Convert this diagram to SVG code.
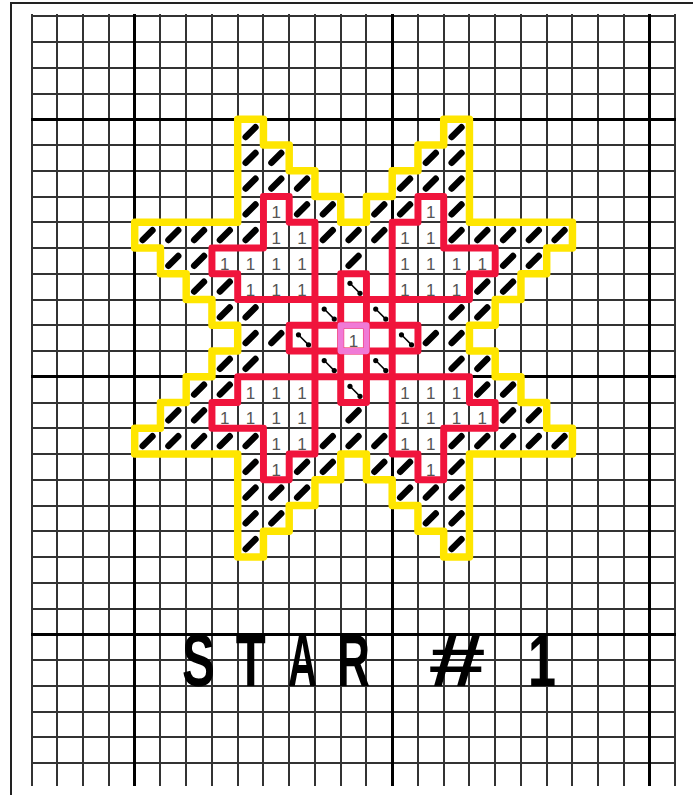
<svg xmlns="http://www.w3.org/2000/svg" xmlns:xlink="http://www.w3.org/1999/xlink" width="693" height="795" viewBox="0 0 693 795">
<style>
.g1{fill:none;stroke:#333;stroke-width:2}
.g2{fill:none;stroke:#000;stroke-width:3}
.yl{fill:none;stroke:#ffe600;stroke-width:.29;stroke-linejoin:round}
.rd{fill:none;stroke:#f0143c;stroke-width:.27;stroke-linejoin:round;stroke-linecap:round}
.pk{fill:none;stroke:#f07ad6;stroke-width:.24;stroke-linejoin:round}
.sl{fill:none;stroke:#000;stroke-width:.25;stroke-linecap:round}
.bs{fill:none;stroke:#000;stroke-width:.06}
.dot{fill:#000}
.one{font-family:"Liberation Sans",Arial,sans-serif;font-size:17px;fill:#555;text-anchor:middle}
.ttl{font-family:"Liberation Sans",Arial,sans-serif;font-weight:bold;font-size:75px;fill:#000}
</style>
<rect width="693" height="795" fill="#fff"/>
<path id="frame" d="M11 795V3H693" fill="none" stroke="#222" stroke-width="2"/>
<g id="grid">
<line class="g1" x1="32" y1="14" x2="32" y2="786"/><line class="g1" x1="57" y1="14" x2="57" y2="786"/><line class="g1" x1="83" y1="14" x2="83" y2="786"/><line class="g1" x1="109" y1="14" x2="109" y2="786"/>
<line class="g1" x1="160" y1="14" x2="160" y2="786"/><line class="g1" x1="186" y1="14" x2="186" y2="786"/><line class="g1" x1="212" y1="14" x2="212" y2="786"/><line class="g1" x1="238" y1="14" x2="238" y2="786"/>
<line class="g1" x1="263" y1="14" x2="263" y2="786"/><line class="g1" x1="289" y1="14" x2="289" y2="786"/><line class="g1" x1="315" y1="14" x2="315" y2="786"/><line class="g1" x1="341" y1="14" x2="341" y2="786"/>
<line class="g1" x1="366" y1="14" x2="366" y2="786"/><line class="g1" x1="418" y1="14" x2="418" y2="786"/><line class="g1" x1="444" y1="14" x2="444" y2="786"/><line class="g1" x1="469" y1="14" x2="469" y2="786"/>
<line class="g1" x1="495" y1="14" x2="495" y2="786"/><line class="g1" x1="521" y1="14" x2="521" y2="786"/><line class="g1" x1="547" y1="14" x2="547" y2="786"/><line class="g1" x1="572" y1="14" x2="572" y2="786"/>
<line class="g1" x1="598" y1="14" x2="598" y2="786"/><line class="g1" x1="624" y1="14" x2="624" y2="786"/><line class="g1" x1="675" y1="14" x2="675" y2="786"/>
<line class="g1" x1="31" y1="16" x2="676" y2="16"/><line class="g1" x1="31" y1="42" x2="676" y2="42"/><line class="g1" x1="31" y1="68" x2="676" y2="68"/><line class="g1" x1="31" y1="94" x2="676" y2="94"/>
<line class="g1" x1="31" y1="145" x2="676" y2="145"/><line class="g1" x1="31" y1="171" x2="676" y2="171"/><line class="g1" x1="31" y1="197" x2="676" y2="197"/><line class="g1" x1="31" y1="222" x2="676" y2="222"/>
<line class="g1" x1="31" y1="248" x2="676" y2="248"/><line class="g1" x1="31" y1="274" x2="676" y2="274"/><line class="g1" x1="31" y1="300" x2="676" y2="300"/><line class="g1" x1="31" y1="325" x2="676" y2="325"/>
<line class="g1" x1="31" y1="351" x2="676" y2="351"/><line class="g1" x1="31" y1="403" x2="676" y2="403"/><line class="g1" x1="31" y1="428" x2="676" y2="428"/><line class="g1" x1="31" y1="454" x2="676" y2="454"/>
<line class="g1" x1="31" y1="480" x2="676" y2="480"/><line class="g1" x1="31" y1="506" x2="676" y2="506"/><line class="g1" x1="31" y1="531" x2="676" y2="531"/><line class="g1" x1="31" y1="557" x2="676" y2="557"/>
<line class="g1" x1="31" y1="583" x2="676" y2="583"/><line class="g1" x1="31" y1="609" x2="676" y2="609"/><line class="g1" x1="31" y1="660" x2="676" y2="660"/><line class="g1" x1="31" y1="686" x2="676" y2="686"/>
<line class="g1" x1="31" y1="712" x2="676" y2="712"/><line class="g1" x1="31" y1="737" x2="676" y2="737"/><line class="g1" x1="31" y1="763" x2="676" y2="763"/>
<line class="g2" x1="134.5" y1="14" x2="134.5" y2="786"/><line class="g2" x1="392.5" y1="14" x2="392.5" y2="786"/><line class="g2" x1="649.5" y1="14" x2="649.5" y2="786"/>
<line class="g2" x1="31" y1="119.5" x2="676" y2="119.5"/><line class="g2" x1="31" y1="376.5" x2="676" y2="376.5"/><line class="g2" x1="31" y1="634.5" x2="676" y2="634.5"/>
</g>
<g id="star" transform="translate(31.7 16.3) scale(25.75)">
<path id="stitches" class="sl" d="M8.31 4.69l.38-.38M16.31 4.69l.38-.38M8.31 5.69l.38-.38M9.31 5.69l.38-.38M15.31 5.69l.38-.38M16.31 5.69l.38-.38M8.31 6.69l.38-.38M9.31 6.69l.38-.38M10.31 6.69l.38-.38M14.31 6.69l.38-.38M15.31 6.69l.38-.38M16.31 6.69l.38-.38M8.31 7.69l.38-.38M10.31 7.69l.38-.38M11.31 7.69l.38-.38M13.31 7.69l.38-.38M14.31 7.69l.38-.38M16.31 7.69l.38-.38M4.31 8.69l.38-.38M5.31 8.69l.38-.38M6.31 8.69l.38-.38M7.31 8.69l.38-.38M8.31 8.69l.38-.38M11.31 8.69l.38-.38M12.31 8.69l.38-.38M13.31 8.69l.38-.38M16.31 8.69l.38-.38M17.31 8.69l.38-.38M18.31 8.69l.38-.38M19.31 8.69l.38-.38M20.31 8.69l.38-.38M5.31 9.69l.38-.38M6.31 9.69l.38-.38M12.31 9.69l.38-.38M18.31 9.69l.38-.38M19.31 9.69l.38-.38M6.31 10.69l.38-.38M7.31 10.69l.38-.38M17.31 10.69l.38-.38M18.31 10.69l.38-.38M7.31 11.69l.38-.38M8.31 11.69l.38-.38M16.31 11.69l.38-.38M17.31 11.69l.38-.38M8.31 12.69l.38-.38M9.31 12.69l.38-.38M15.31 12.69l.38-.38M16.31 12.69l.38-.38M7.31 13.69l.38-.38M8.31 13.69l.38-.38M16.31 13.69l.38-.38M17.31 13.69l.38-.38M6.31 14.69l.38-.38M7.31 14.69l.38-.38M17.31 14.69l.38-.38M18.31 14.69l.38-.38M5.31 15.69l.38-.38M6.31 15.69l.38-.38M12.31 15.69l.38-.38M18.31 15.69l.38-.38M19.31 15.69l.38-.38M4.31 16.69l.38-.38M5.31 16.69l.38-.38M6.31 16.69l.38-.38M7.31 16.69l.38-.38M8.31 16.69l.38-.38M11.31 16.69l.38-.38M12.31 16.69l.38-.38M13.31 16.69l.38-.38M16.31 16.69l.38-.38M17.31 16.69l.38-.38M18.31 16.69l.38-.38M19.31 16.69l.38-.38M20.31 16.69l.38-.38M8.31 17.69l.38-.38M10.31 17.69l.38-.38M11.31 17.69l.38-.38M13.31 17.69l.38-.38M14.31 17.69l.38-.38M16.31 17.69l.38-.38M8.31 18.69l.38-.38M9.31 18.69l.38-.38M10.31 18.69l.38-.38M14.31 18.69l.38-.38M15.31 18.69l.38-.38M16.31 18.69l.38-.38M8.31 19.69l.38-.38M9.31 19.69l.38-.38M15.31 19.69l.38-.38M16.31 19.69l.38-.38M8.31 20.69l.38-.38M16.31 20.69l.38-.38"/>
<g id="backstitches">
<path class="bs" d="M12.36 10.37l.39.39M11.36 11.37l.39.39M13.36 11.37l.39.39M10.36 12.37l.39.39M14.36 12.37l.39.39M11.36 13.37l.39.39M13.36 13.37l.39.39M12.36 14.37l.39.39"/>
<g class="dot"><circle cx="12.36" cy="10.37" r=".1"/><circle cx="12.75" cy="10.76" r=".1"/><circle cx="11.36" cy="11.37" r=".1"/><circle cx="11.75" cy="11.76" r=".1"/><circle cx="13.36" cy="11.37" r=".1"/><circle cx="13.75" cy="11.76" r=".1"/><circle cx="10.36" cy="12.37" r=".1"/><circle cx="10.75" cy="12.76" r=".1"/><circle cx="14.36" cy="12.37" r=".1"/><circle cx="14.75" cy="12.76" r=".1"/><circle cx="11.36" cy="13.37" r=".1"/><circle cx="11.75" cy="13.76" r=".1"/><circle cx="13.36" cy="13.37" r=".1"/><circle cx="13.75" cy="13.76" r=".1"/><circle cx="12.36" cy="14.37" r=".1"/><circle cx="12.75" cy="14.76" r=".1"/></g>
</g>
<path id="yellow-outline" class="yl" d="M8 4H9V5H10V6H11V7H12V8H13V7H14V6H15V5H16V4H17V8H21V9H20V10H19V11H18V12H17V13H18V14H19V15H20V16H21V17H17V21H16V20H15V19H14V18H13V17H12V18H11V19H10V20H9V21H8V17H4V16H5V15H6V14H7V13H8V12H7V11H6V10H5V9H4V8H8Z"/>
<path id="red-outline" class="rd" d="M9 7H10V8H11V11H8V10H7V9H9ZM16 7H15V8H14V11H17V10H18V9H16ZM9 18H10V17H11V14H8V15H7V16H9ZM16 18H15V17H14V14H17V15H18V16H16ZM11 8V17M14 8V17M8 11H17M8 14H17M10 12H15V13H10ZM12 10H13V15H12Z"/>
<path id="pink-outline" class="pk" d="M12 12H13V13H12Z"/>
</g>
<g id="ones">
<text class="one" x="276.3" y="218.3">1</text><text class="one" x="430.8" y="218.3">1</text>
<text class="one" x="276.3" y="244.05">1</text><text class="one" x="302.1" y="244.05">1</text><text class="one" x="405.1" y="244.05">1</text><text class="one" x="430.8" y="244.05">1</text>
<text class="one" x="224.8" y="269.8">1</text><text class="one" x="250.6" y="269.8">1</text><text class="one" x="276.3" y="269.8">1</text><text class="one" x="302.1" y="269.8">1</text><text class="one" x="405.1" y="269.8">1</text><text class="one" x="430.8" y="269.8">1</text><text class="one" x="456.6" y="269.8">1</text><text class="one" x="482.3" y="269.8">1</text>
<text class="one" x="250.6" y="295.55">1</text><text class="one" x="276.3" y="295.55">1</text><text class="one" x="302.1" y="295.55">1</text><text class="one" x="405.1" y="295.55">1</text><text class="one" x="430.8" y="295.55">1</text><text class="one" x="456.6" y="295.55">1</text>
<text class="one" x="353.6" y="347.05">1</text>
<text class="one" x="250.6" y="398.55">1</text><text class="one" x="276.3" y="398.55">1</text><text class="one" x="302.1" y="398.55">1</text><text class="one" x="405.1" y="398.55">1</text><text class="one" x="430.8" y="398.55">1</text><text class="one" x="456.6" y="398.55">1</text>
<text class="one" x="224.8" y="424.3">1</text><text class="one" x="250.6" y="424.3">1</text><text class="one" x="276.3" y="424.3">1</text><text class="one" x="302.1" y="424.3">1</text><text class="one" x="405.1" y="424.3">1</text><text class="one" x="430.8" y="424.3">1</text><text class="one" x="456.6" y="424.3">1</text><text class="one" x="482.3" y="424.3">1</text>
<text class="one" x="276.3" y="450.05">1</text><text class="one" x="302.1" y="450.05">1</text><text class="one" x="405.1" y="450.05">1</text><text class="one" x="430.8" y="450.05">1</text>
<text class="one" x="276.3" y="475.8">1</text><text class="one" x="430.8" y="475.8">1</text>
</g>
<g id="title">
<text class="ttl" y="686"><tspan x="182" textLength="33" lengthAdjust="spacingAndGlyphs">S</tspan><tspan x="235.8" textLength="30" lengthAdjust="spacingAndGlyphs">T</tspan><tspan x="288" textLength="29" lengthAdjust="spacingAndGlyphs">A</tspan><tspan x="337" textLength="33" lengthAdjust="spacingAndGlyphs">R</tspan> <tspan x="428.5" textLength="57" lengthAdjust="spacingAndGlyphs">#</tspan> <tspan x="528" textLength="28" lengthAdjust="spacingAndGlyphs">1</tspan></text>
</g>
</svg>
